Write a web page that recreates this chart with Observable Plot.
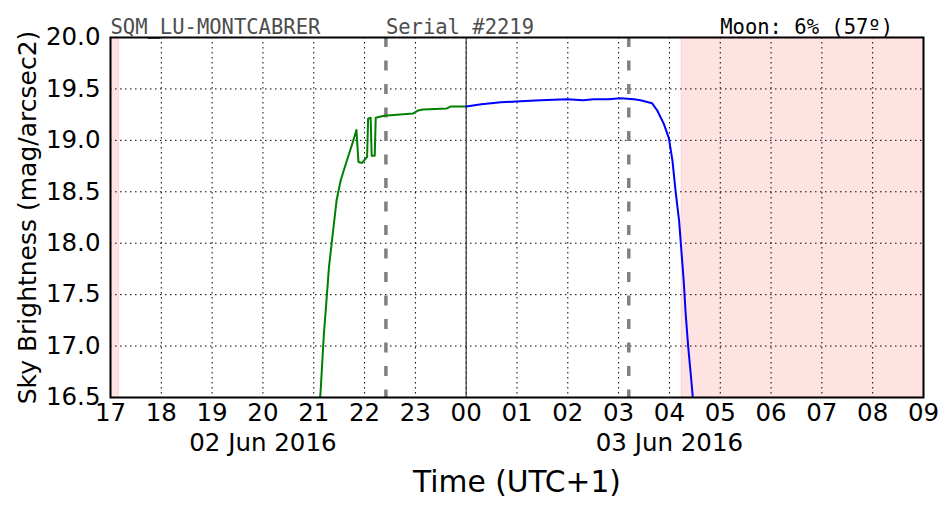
<!DOCTYPE html>
<html><head><meta charset="utf-8">
<script src="https://cdn.jsdelivr.net/npm/d3@7"></script>
<script src="https://cdn.jsdelivr.net/npm/@observablehq/plot@0.6"></script>
<style>body{margin:0;background:#fff} svg{display:block}</style>
</head><body><div id="chart"></div>
<script>
// hours since 00:00 on 02 Jun 2016 (UTC+1); values above 24 are on 03 Jun
const tickHours = [17,18,19,20,21,22,23,24,25,26,27,28,29,30,31,32,33];
const tickLabels = ["17","18","19","20","21","22","23","00","01","02","03","04","05","06","07","08","09"];
const yTicks = [16.5,17.0,17.5,18.0,18.5,19.0,19.5,20.0];
const dateHours = [20, 28];
const dateLabels = ["02 Jun 2016", "03 Jun 2016"];

const greenT = [21.08,21.13,21.20,21.25,21.30,21.36,21.45,21.53,21.63,21.76,21.84,21.88,21.95,22.05,22.07,22.12,22.14,22.20,22.22,22.38,22.64,22.95,23.05,23.15,23.62,23.70,24.00];
const greenV = [16.30,16.52,17.12,17.44,17.77,18.03,18.42,18.61,18.77,18.97,19.10,18.79,18.78,18.84,19.21,19.22,18.85,18.85,19.22,19.24,19.25,19.26,19.29,19.30,19.31,19.33,19.33];

const blueT = [24.00,24.30,24.68,25.07,25.46,25.99,26.30,26.51,26.80,27.04,27.30,27.43,27.66,27.76,27.89,27.99,28.06,28.12,28.19,28.23,28.28,28.32,28.37,28.43,28.46,28.48];
const blueV = [19.33,19.35,19.37,19.38,19.39,19.40,19.39,19.40,19.40,19.41,19.40,19.39,19.36,19.29,19.16,19.02,18.80,18.51,18.22,17.96,17.64,17.31,16.99,16.67,16.50,16.30];

const twilightStart = [17.00, 28.24];
const twilightEnd = [17.17, 33.00];
const dashedHours = [22.42, 27.20];
const midnight = [24];

const headerTexts = ["SQM_LU-MONTCABRER", "Serial #2219", "Moon: 6% (57º)"];
const headerHours = [17.0, 22.42, 29.0];
const headerColors = ["#4d4d4d", "#4d4d4d", "#000000"];

const green = greenT.map((t, i) => ({t, v: greenV[i]}));
const blue = blueT.map((t, i) => ({t, v: blueV[i]}));
const twilight = twilightStart.map((s, i) => ({s, e: twilightEnd[i]}));
const dates = dateHours.map((x, i) => ({x, label: dateLabels[i]}));
const headers = headerTexts.map((text, i) => ({text, x: headerHours[i], c: headerColors[i]}));

const chart = Plot.plot({
  width: 952, height: 512,
  marginLeft: 110, marginRight: 29, marginTop: 37, marginBottom: 115,
  style: {fontFamily: "DejaVu Sans", background: "white", color: "black"},
  x: {domain: [17, 33]},
  y: {domain: [16.5, 20]},
  marks: [
    Plot.rect(twilight, {x1: "s", x2: "e", fill: "#ff0000", fillOpacity: 0.11, stroke: "#ff0000", strokeOpacity: 0.12}),
    Plot.gridX(tickHours, {stroke: "black", strokeOpacity: 1, strokeWidth: 1, strokeDasharray: "1.5,3.5"}),
    Plot.gridY(yTicks, {stroke: "black", strokeOpacity: 1, strokeWidth: 1, strokeDasharray: "1.5,3.5"}),
    Plot.ruleX(midnight, {stroke: "#333", strokeWidth: 1.2}),
    Plot.ruleX(dashedHours, {stroke: "gray", strokeWidth: 3.5, strokeDasharray: "10,13.5"}),
    Plot.line(green, {x: "t", y: "v", stroke: "#008000", strokeWidth: 2, clip: true}),
    Plot.line(blue, {x: "t", y: "v", stroke: "#0000ff", strokeWidth: 2, clip: true}),
    Plot.axisY(yTicks, {tickSize: 0, tickPadding: 10, fontSize: 24.5, tickFormat: d => d.toFixed(1), label: null}),
    Plot.axisX(tickHours, {tickSize: 0, tickPadding: 6, fontSize: 24.5, tickFormat: d => tickLabels[tickHours.indexOf(d)], label: null}),
    Plot.text(dates, {x: "x", text: "label", frameAnchor: "bottom", lineAnchor: "middle", dy: 46, fontSize: 24.5}),
    Plot.text(["Time (UTC+1)"], {text: d => d, frameAnchor: "bottom", lineAnchor: "middle", dy: 85, fontSize: 29.7}),
    Plot.text(["Sky Brightness (mag/arcsec2)"], {text: d => d, frameAnchor: "left", textAnchor: "middle", lineAnchor: "middle", rotate: -90, dx: -83, fontSize: 25}),
    Plot.text(headers, {x: "x", text: "text", fill: "c", frameAnchor: "top", textAnchor: "start", lineAnchor: "bottom", dy: -4, fontFamily: "DejaVu Sans Mono", fontSize: 20.5}),
    Plot.frame({stroke: "black", strokeWidth: 2})
  ]
});
document.getElementById("chart").append(chart);
</script>
</body></html>
